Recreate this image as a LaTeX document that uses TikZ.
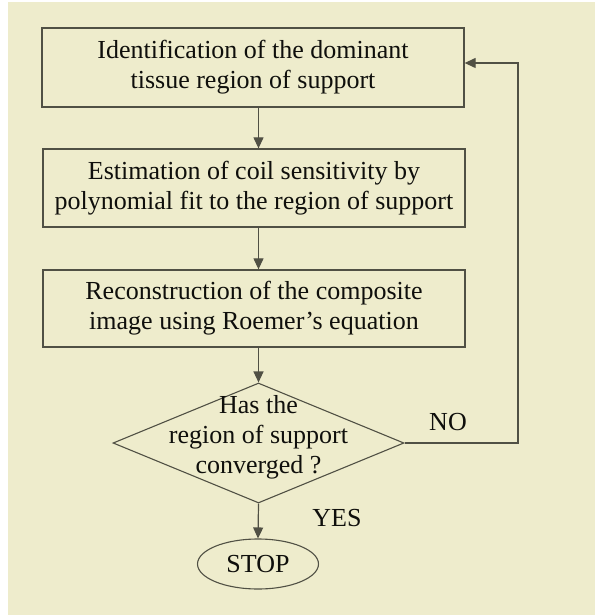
\documentclass[tikz,border=0pt]{standalone}
\usepackage{fontspec}
\setmainfont{Liberation Serif}
\usetikzlibrary{shapes.geometric,arrows.meta}
\definecolor{paper}{RGB}{238,236,204}
\definecolor{ink}{RGB}{80,80,68}
\definecolor{txt}{RGB}{15,15,12}
\tikzset{
  stepbox/.style={draw=ink, line width=1.3pt, rectangle, minimum width=422pt, minimum height=79pt, inner sep=0pt},
  decision/.style={draw=ink, line width=1.1pt, diamond, minimum width=291pt, minimum height=120pt, inner sep=0pt},
  terminal/.style={draw=ink, line width=1.1pt, ellipse, minimum width=121pt, minimum height=50pt, inner sep=0pt},
  label/.style={text=txt, align=center, font=\fontsize{26}{30}\selectfont, inner sep=0pt},
  flow/.style={draw=ink, line width=1.2pt, -{Triangle[length=11pt,width=10pt]}},
}
\begin{document}
\begin{tikzpicture}[x=1pt,y=-1pt]
  \useasboundingbox (0,0) rectangle (595,615);
  \fill[white] (0,0) rectangle (595,615);
  \fill[paper] (8,2) rectangle (595,615);

  % process steps
  \node[stepbox] (b1) at (253,67.5) {};
  \node[label] (t1) at (b1) {Identification of the dominant\\tissue region of support};
  \node[stepbox, minimum height=78pt] (b2) at (254,188) {};
  \node[label] (t2) at (b2) {Estimation of coil sensitivity by\\polynomial fit to the region of support};
  \node[stepbox, minimum height=77pt] (b3) at (254,308.5) {};
  \node[label] (t3) at (b3) {Reconstruction of the composite\\image using Roemer's equation};

  % convergence test
  \node[decision] (dia) at (258.5,443) {};
  \node[label] (tq) at (258.5,437) {Has the\\region of support\\converged ?};

  % end
  \node[terminal] (stop) at (258,564) {};
  \node[label] (ts) at (stop) {STOP};

  \node[label] (no) at (448,422) {NO};
  \node[label] (yes) at (337,518) {YES};

  % connectors
  \draw[flow] (b1.south -| dia.north) -- (b2.north -| dia.north);
  \draw[flow] (b2.south -| dia.north) -- (b3.north -| dia.north);
  \draw[flow] (b3.south -| dia.north) -- (dia.north);
  \draw[flow] (dia.south) -- (stop.north);

  \coordinate (fb0) at (518,443);
  \coordinate (fb1) at (518,63);
  \draw[flow] (dia.east) -- (fb0) -- (fb1) -- (b1.east |- fb1);
\end{tikzpicture}
\end{document}
